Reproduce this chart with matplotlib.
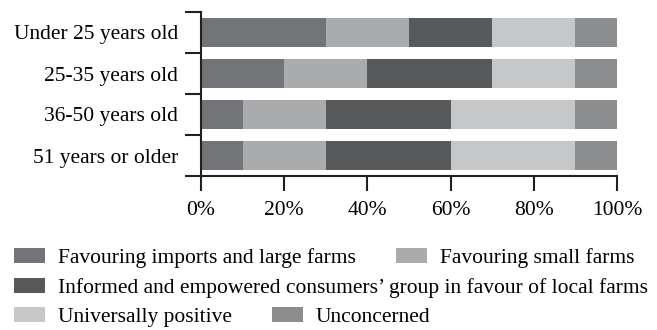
import numpy as np
import matplotlib.pyplot as plt

plt.rcParams['font.family'] = ['Liberation Serif', 'DejaVu Serif']
plt.rcParams['font.size'] = 15.5

groups = ['Under 25 years old', '25-35 years old', '36-50 years old', '51 years or older']
series = ['Favouring imports and large farms', 'Favouring small farms',
          'Informed and empowered consumers\u2019 group in favour of local farms',
          'Universally positive', 'Unconcerned']
imports_large = [30, 20, 10, 10]
small_farms = [20, 20, 20, 20]
informed = [20, 30, 30, 30]
positive = [20, 20, 30, 30]
unconcerned = [10, 10, 10, 10]
colors = ['#737477', '#aaabad', '#58595b', '#c6c7c8', '#8c8d8f']
xticks = [0, 20, 40, 60, 80, 100]

fig = plt.figure(figsize=(6.57, 3.3), dpi=100)
ax = fig.add_axes([201/657, 1-176/330, 416/657, 164/330])

y = np.arange(len(groups))
left = np.zeros(len(groups))
bars = []
for vals, c in zip([imports_large, small_farms, informed, positive, unconcerned], colors):
    b = ax.barh(y, vals, left=left, height=0.7, color=c, linewidth=0)
    bars.append(b)
    left = left + np.array(vals)

ax.set_ylim(3.5, -0.5)
ax.set_xlim(0, 100)
ax.set_xticks(xticks)
ax.set_xticklabels([str(t) + '%' for t in xticks])
ax.set_yticks(np.arange(-0.5, 4, 1))
ax.set_yticklabels([])
ax.set_yticks(y, minor=True)
ax.set_yticklabels(groups, minor=True)
ax.tick_params(axis='y', which='major', length=11.5, width=1.5, direction='out', color='#231f20')
ax.tick_params(axis='y', which='minor', length=0, pad=16.5)
ax.tick_params(axis='x', length=11, width=1.5, direction='out', pad=7, color='#231f20')
for s in ['top', 'right']:
    ax.spines[s].set_visible(False)
for s in ['left', 'bottom']:
    ax.spines[s].set_linewidth(1.5)
    ax.spines[s].set_color('#231f20')

rows = [[0, 1], [2], [3, 4]]
row_y = [258, 288, 317]
for r, yy in zip(rows, row_y):
    fig.legend([bars[i] for i in r], [series[i] for i in r], loc='center left',
               bbox_to_anchor=(0, 1-yy/330), ncol=len(r), frameon=False,
               handlelength=1.43, handleheight=0.7, handletextpad=0.6,
               columnspacing=1.88, borderpad=0, borderaxespad=0.65)

fig.savefig('out.png', dpi=100)
